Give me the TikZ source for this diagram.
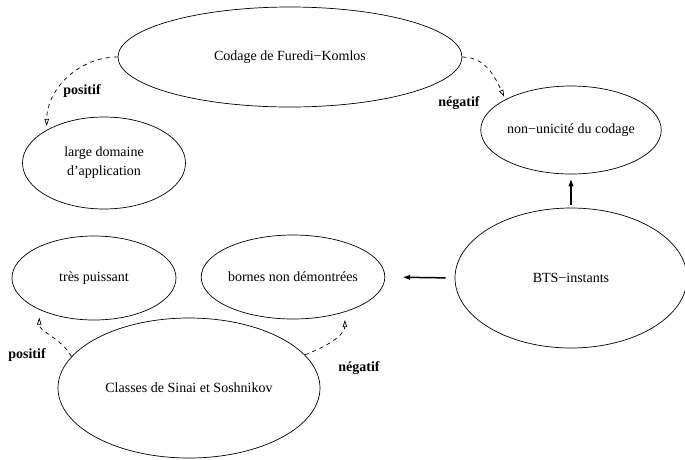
\documentclass[tikz,border=0pt]{standalone}
\usepackage{fontspec}
\setmainfont{Liberation Serif}
\usetikzlibrary{arrows.meta,shapes.geometric}

\begin{document}
\begin{tikzpicture}[x=1pt,y=-1pt,>={Triangle[open,length=7pt,width=4.5pt]},
 font=\fontsize{14}{19}\selectfont,
 ell/.style={draw,ellipse,line width=0.7pt,inner sep=0pt,align=center},
 lbl/.style={font=\fontsize{14}{19}\selectfont\bfseries},
 dsh/.style={->,dashed,line width=0.7pt,dash pattern=on 4pt off 4pt},
 sld/.style={->,line width=1.5pt}]
\useasboundingbox (0,0) rectangle (685,459);
\node[ell,minimum width=344pt,minimum height=100pt] (cod) at (290,57) {Codage de Furedi−Komlos};
\node[ell,minimum width=163pt,minimum height=92pt] (large) at (104,163) {large domaine\\d’application};
\node[ell,minimum width=165pt,minimum height=88pt] (nonu) at (571,130) {non−unicité du codage};
\node[ell,minimum width=232pt,minimum height=140pt] (bts) at (571,278) {BTS−instants};
\node[ell,minimum width=164pt,minimum height=84pt] (tres) at (94,278) {très puissant};
\node[ell,minimum width=164pt,minimum height=84pt] (bornes) at (293,277) {bornes non démontrées};
\node[ell,minimum width=262pt,minimum height=140pt] (cls) at (189,388) {Classes de Sinai et Soshnikov};
% labels
\node[lbl] (pos1) at (82,91) {positif};
\node[lbl] (neg1) at (459,103) {négatif};
\node[lbl] (pos2) at (27,355) {positif};
\node[lbl] (neg2) at (359,368) {négatif};
% arrows
\draw[dsh,shorten >=4pt] (cod.west) to[out=180,in=90] (large.150);
\draw[dsh,shorten >=3pt] (cod.east) to[out=0,in=115] (nonu.155);
\draw[sld,shorten <=3pt,shorten >=5pt] (bts.north) -- (nonu.south);
\draw[sld,shorten <=9pt,shorten >=18pt] (bts.west) -- (bornes.east);
\draw[dsh,shorten >=8pt] (cls.165) to[out=120,in=-90] (tres.210);
\draw[dsh,shorten >=8pt] (cls.16) to[out=20,in=-90] (bornes.-34);
\end{tikzpicture}
\end{document}
